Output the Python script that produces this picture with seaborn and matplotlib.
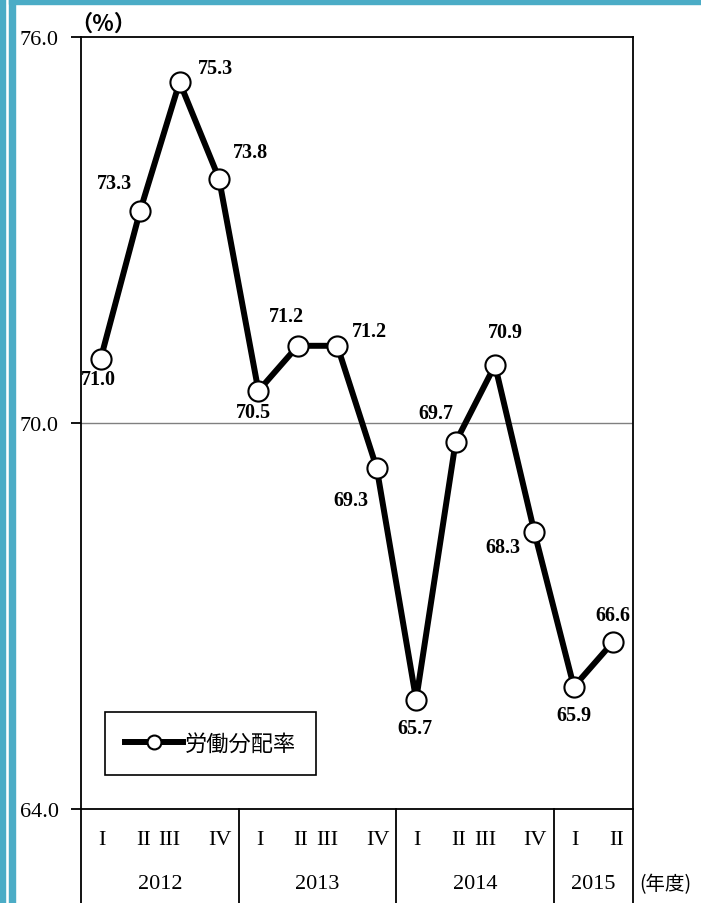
import matplotlib
matplotlib.use("Agg")
import matplotlib.pyplot as plt
import seaborn as sns
import pandas as pd
from matplotlib.lines import Line2D
from matplotlib.patches import Rectangle
from matplotlib.font_manager import FontProperties

quarters = ["I", "II", "III", "IV", "I", "II", "III", "IV", "I", "II", "III", "IV", "I", "II"]
years = ["2012", "2013", "2014", "2015"]
quarters_per_year = [4, 4, 4, 2]
rate = [71.0, 73.3, 75.3, 73.8, 70.5, 71.2, 71.2, 69.3, 65.7, 69.7, 70.9, 68.3, 65.9, 66.6]
series_name = "労働分配率"

# where each value label sits relative to its point (pixels, by eye)
label_off = [(-2, -20), (-26, 28), (36, 14), (31, 27), (-5, -21), (-11, 30), (32, 15),
             (-26, -32), (-1, -28), (-20, 29), (10, 33), (-31, -15), (0, -28), (0, 27)]
# small nudges the original gives the quarter numerals
quarter_dx = {"I": 1, "II": 3, "III": -10, "IV": 1}

serif = "Liberation Serif"
cjk = ["Noto Sans CJK JP", "DejaVu Sans"]
teal = "#4BACC6"

df = pd.DataFrame({"x": range(len(rate)), "rate": rate})

W, H = 701, 904
fig = plt.figure(figsize=(W / 100, H / 100), dpi=100)
ax = fig.add_axes([81 / W, 1 - 810 / H, (633 - 81) / W, (810 - 38) / H])

ax.axhline(70, color="#808080", lw=1, zorder=1)
sns.lineplot(data=df, x="x", y="rate", ax=ax, color="black", lw=4.3,
             marker="o", markersize=14.5, markerfacecolor="white",
             markeredgecolor="black", markeredgewidth=1.5, zorder=3)

for i, v in enumerate(rate):
    ax.annotate(f"{v:.1f}", (i, v), xytext=label_off[i], textcoords="offset pixels",
                ha="center", va="center", fontsize=14.5, fontweight="bold", family=serif)

ax.set_xlim(-0.5, len(rate) - 0.5)
ax.set_ylim(64, 76)
ax.set_yticks([64, 70, 76])
ax.set_yticklabels([f"{t:.1f}" for t in [64, 70, 76]], family=serif, fontsize=16)
ax.set_xticks([])
ax.tick_params(axis="y", direction="out", length=7, width=1.3, pad=9)
ax.set_xlabel("")
ax.set_ylabel("")
for s in ax.spines.values():
    s.set_linewidth(1.3)
    s.set_color("black")

# quarter and year table below the axis
tr = ax.get_xaxis_transform()
for i, q in enumerate(quarters):
    ax.annotate(q, (i, 0), xycoords=tr, xytext=(quarter_dx[q], -31),
                textcoords="offset pixels", ha="center", va="center",
                family=serif, fontsize=16, annotation_clip=False)

ybot = -(H - 810) / (810 - 38)
edges = [-0.5]
for n in quarters_per_year:
    edges.append(edges[-1] + n)
for e in edges:
    ax.plot([e, e], [0, ybot], transform=tr, clip_on=False, color="black", lw=1.3)
for k, yr in enumerate(years):
    ax.text((edges[k] + edges[k + 1]) / 2, -(885 - 810) / (810 - 38), yr, transform=tr,
            ha="center", va="center", family=serif, fontsize=16)
ax.text(1.012, -(885 - 810) / (810 - 38), "(年度)", transform=ax.transAxes,
        ha="left", va="center", family=cjk, fontsize=14)

fig.text(70 / W, 1 - 24 / H, "（%）", ha="left", va="center", family=cjk,
         fontsize=16, fontweight="bold")

handle = Line2D([], [], color="black", lw=4.3, marker="o", markersize=10,
                markerfacecolor="white", markeredgecolor="black", markeredgewidth=1.5)
leg = ax.legend([handle], [series_name], loc="lower left",
                bbox_to_anchor=((105 - 81) / 552, (810 - 776) / 772), borderaxespad=0,
                fancybox=False, edgecolor="black", framealpha=1,
                prop=FontProperties(family=cjk, size=16),
                handlelength=2.6, handletextpad=0.1, borderpad=0.9)
leg.get_frame().set_linewidth(1.2)

# teal page border
for x0, w in [(0, 5), (9, 6)]:
    fig.patches.append(Rectangle((x0 / W, 0), w / W, 1, transform=fig.transFigure,
                                 color=teal, zorder=0))
fig.patches.append(Rectangle((9 / W, 1 - 5 / H), 1, 5 / H, transform=fig.transFigure,
                             color=teal, zorder=0))

fig.savefig("out.png", dpi=100)
